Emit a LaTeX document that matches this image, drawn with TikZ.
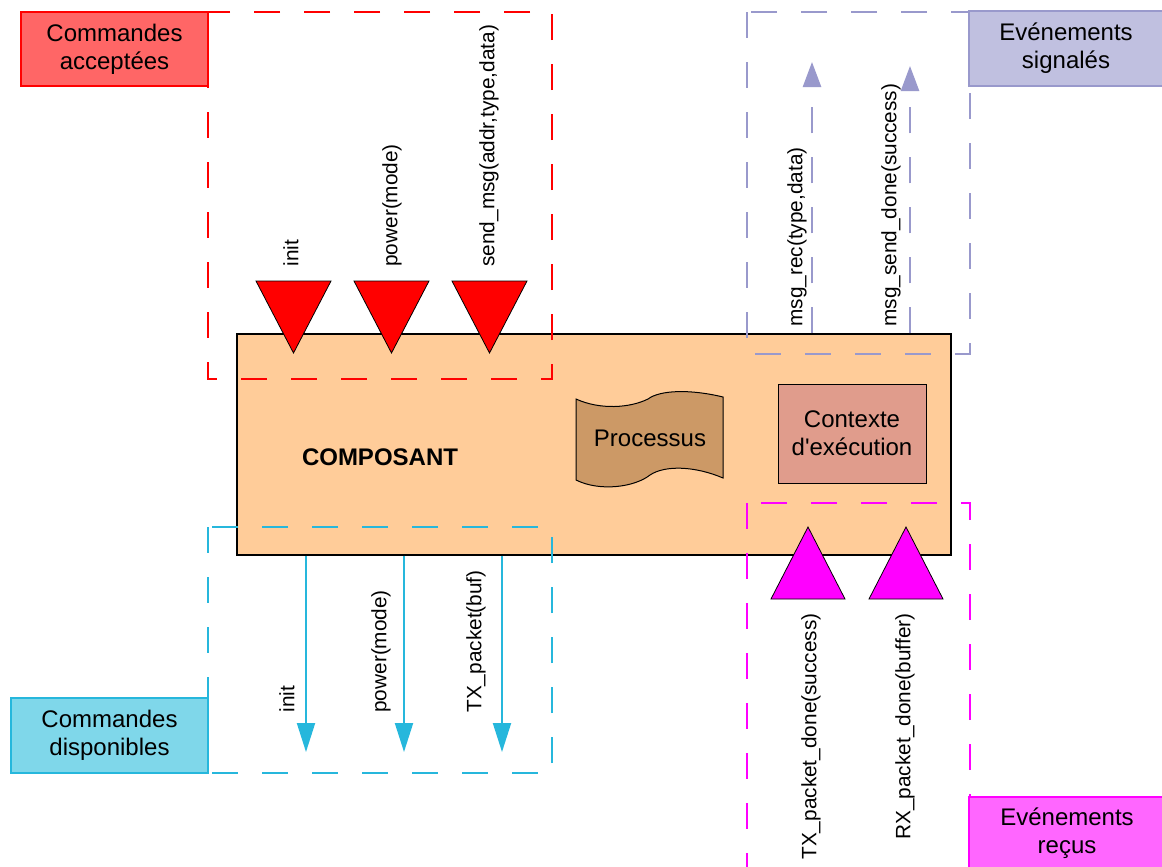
\documentclass[tikz,border=0pt]{standalone}
\usepackage{fontspec}
\setmainfont{Liberation Sans}[Ligatures=TeXOff]
\usetikzlibrary{arrows.meta}

\definecolor{redline}{RGB}{255,0,0}
\definecolor{redfill}{RGB}{255,102,102}
\definecolor{peach}{RGB}{255,204,153}
\definecolor{procfill}{RGB}{204,153,102}
\definecolor{ctxfill}{RGB}{224,156,140}
\definecolor{cyanline}{RGB}{38,183,220}
\definecolor{cyanfill}{RGB}{127,215,234}
\definecolor{lavline}{RGB}{153,153,204}
\definecolor{lavfill}{RGB}{192,192,224}
\definecolor{magline}{RGB}{255,0,255}
\definecolor{magfill}{RGB}{255,102,255}

\begin{document}
\begin{tikzpicture}[x=0.5pt, y=-0.5pt,
		every node/.style={inner sep=0pt, font=\fontsize{10.4}{12}\selectfont},
		zone/.style={line width=1.25pt, dash pattern=on 13pt off 12pt},
		tag/.style={draw, line width=1.25pt, align=center, font=\fontsize{12}{14}\selectfont},
		tri/.style={draw=black, line width=0.4pt},
		sig/.style={rotate=90}]
		\clip (0, 0) rectangle (1162, 867);
		\fill[white] (0, 0) rectangle (1162, 867);
	
		% le composant
		\node[draw, line width=0.7pt, fill=peach, minimum width=357pt, minimum height=110.5pt] (comp) at (594, 444.5) {};
		\node[font=\fontsize{12}{14}\selectfont\bfseries] (compname) at (380, 457) {COMPOSANT};
		
		\filldraw[fill=procfill, line width=0.5pt] (576, 399) .. controls (600, 410) and (630, 408) .. (648, 399)
			.. controls (660, 390) and (690, 389) .. (723, 397) -- (723, 478)
			.. controls (695, 466) and (665, 465) .. (650, 475)
			.. controls (635, 487) and (600, 492) .. (576, 480) -- cycle;
		\node[font=\fontsize{12}{14}\selectfont] (proc) at (650, 438) {Processus};
		\node[draw, line width=0.5pt, fill=ctxfill, minimum width=74pt, minimum height=49.5pt, align=center,
			font=\fontsize{12}{14}\selectfont] (ctx) at (852, 433.5) {Contexte\\d'exécution};
		
		% zones
		\draw[zone, redline] (208, 12) rectangle (552, 379);
		\draw[zone, cyanline] (208, 527) rectangle (552, 773);
		\draw[zone, lavline] (747, 12) rectangle (970, 354);
		\draw[zone, magline] (747, 503) rectangle (970, 900);
		
		% commandes acceptees
		\filldraw[tri, fill=redline] (256, 281) -- (331, 281) -- (293.5, 353) -- cycle;
		\filldraw[tri, fill=redline] (354, 281) -- (429, 281) -- (391.5, 353) -- cycle;
		\filldraw[tri, fill=redline] (452, 281) -- (527, 281) -- (489.5, 353) -- cycle;
		\node[sig, anchor=west] (acinit) at (291, 267) {init};
		\node[sig, anchor=west] (acpower) at (392, 267) {power(mode)};
		\node[sig, anchor=west] (acsend) at (489, 267) {send\_msg(addr,type,data)};
		
		% commandes disponibles
		\coordinate (cdinit) at (306, 752);
		\coordinate (cdpower) at (404, 752);
		\coordinate (cdtx) at (502, 752);
		\draw[cyanline, line width=1pt, -{Triangle[width=9pt, length=14.5pt]}] (cdinit |- comp.south) -- (cdinit);
		\draw[cyanline, line width=1pt, -{Triangle[width=9pt, length=14.5pt]}] (cdpower |- comp.south) -- (cdpower);
		\draw[cyanline, line width=1pt, -{Triangle[width=9pt, length=14.5pt]}] (cdtx |- comp.south) -- (cdtx);
		\node[sig, anchor=west] (cdinitl) at (287, 713) {init};
		\node[sig, anchor=west] (cdpowerl) at (381, 713) {power(mode)};
		\node[sig, anchor=west] (cdtxl) at (476, 713) {TX\_packet(buf)};
		
		% evenements signales
		\coordinate (esrec) at (812, 62);
		\coordinate (essend) at (910, 66);
		\draw[zone, lavline, -{Triangle[width=9pt, length=12.5pt]}] (esrec |- comp.north) -- (esrec);
		\draw[zone, lavline, -{Triangle[width=9pt, length=12.5pt]}] (essend |- comp.north) -- (essend);
		\node[sig, anchor=west] (esrecl) at (797, 327) {msg\_rec(type,data)};
		\node[sig, anchor=west] (essendl) at (891, 327) {msg\_send\_done(success)};
		
		% evenements recus
		\filldraw[tri, fill=magline] (771, 599) -- (845, 599) -- (808, 527) -- cycle;
		\filldraw[tri, fill=magline] (869, 599) -- (943, 599) -- (906, 527) -- cycle;
		\node[sig, anchor=east] (ertx) at (811, 613) {TX\_packet\_done(success)};
		\node[sig, anchor=east] (errx) at (905, 613) {RX\_packet\_done(buffer)};
		
		% etiquettes
		\node[tag, draw=redline, fill=redfill, minimum width=93.5pt, minimum height=37pt] (cmdacc) at (114.5, 49) {Commandes\\acceptées};
		\node[tag, draw=cyanline, fill=cyanfill, minimum width=98.5pt, minimum height=37.5pt] (cmddisp) at (109.5, 735.5) {Commandes\\disponibles};
		\node[tag, draw=lavline, fill=lavfill, minimum width=97pt, minimum height=37.5pt] (evsig) at (1066, 48.5) {Evénements\\signalés};
		\node[tag, draw=magline, fill=magfill, minimum width=98pt, minimum height=36pt] (evrec) at (1067, 833) {Evénements\\reçus};
	\end{tikzpicture}
\end{document}
